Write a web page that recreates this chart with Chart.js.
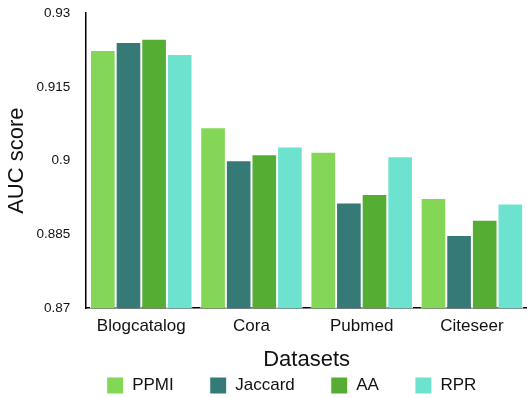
<!DOCTYPE html>
<html>

<head>
  <title>AUC score by dataset</title>
  <script src="https://cdn.jsdelivr.net/npm/chart.js"></script>
  <style>
    body { margin: 0; background: #fff; }
    #wrap { width: 527px; height: 398px; }
  </style>
</head>

<body>
  <div id="wrap"><canvas id="myChart"></canvas></div>
  <script>
    const datasetNames = ['Blogcatalog', 'Cora', 'Pubmed', 'Citeseer'];
    const ppmi = [0.9225, 0.9068, 0.9018, 0.8924];
    const jaccard = [0.9241, 0.9001, 0.8915, 0.8849];
    const aa = [0.9248, 0.9013, 0.8932, 0.8880];
    const rpr = [0.9217, 0.9029, 0.9009, 0.8913];
    const yTicks = [0.87, 0.885, 0.9, 0.915, 0.93];

    const font = 'Liberation Sans, Arial, Helvetica, sans-serif';

    function series(label, data, color) {
      return {
        label: label,
        data: data,
        backgroundColor: color,
        borderColor: '#ffffff',
        borderWidth: 1,
        borderSkipped: 'bottom'
      };
    }

    // legend wants wide gaps between items but a short box, so squeeze it after fit
    // and draw it centred under the plot instead of the whole canvas
    const legendSqueeze = {
      id: 'legendSqueeze',
      beforeInit(chart) {
        const lg = chart.legend;
        const origFit = lg.fit;
        lg.fit = function () {
          origFit.call(this);
          this.height = 25;
        };
        const origDraw = lg.draw;
        lg.draw = function () {
          const t = this.top, l = this.left, r = this.right;
          this.top = t - 32;
          this.left = l + 26;
          this.right = r + 26;
          origDraw.call(this);
          this.top = t;
          this.left = l;
          this.right = r;
        };
      }
    };

    const ctx = document.getElementById('myChart').getContext('2d');
    const myChart = new Chart(ctx, {
      type: 'bar',
      data: {
        labels: datasetNames,
        datasets: [
          series('PPMI', ppmi, '#84d656'),
          series('Jaccard', jaccard, '#357a76'),
          series('AA', aa, '#55ad33'),
          series('RPR', rpr, '#6de3cf')
        ]
      },
      plugins: [legendSqueeze],
      options: {
        responsive: true,
        maintainAspectRatio: false,
        animation: false,
        layout: { padding: { top: 4, right: 0, left: 4, bottom: 0 } },
        datasets: { bar: { barPercentage: 1, categoryPercentage: 0.93 } },
        plugins: {
          tooltip: { enabled: false },
          legend: {
            position: 'bottom',
            labels: {
              color: '#111',
              font: { family: font, size: 17 },
              boxWidth: 17,
              boxHeight: 17,
              padding: 36
            }
          }
        },
        scales: {
          x: {
            grid: { display: false, drawTicks: false },
            border: { color: '#000', width: 1.5 },
            ticks: { color: '#111', font: { family: font, size: 17 }, padding: 8 },
            afterFit: s => { s.height -= 8; },
            title: {
              display: true,
              text: 'Datasets',
              color: '#111',
              font: { family: font, size: 22 },
              padding: { top: 10, bottom: 0 }
            }
          },
          y: {
            min: 0.87,
            max: 0.93,
            afterBuildTicks: axis => { axis.ticks = yTicks.map(v => ({ value: v })); },
            afterFit: s => { s.width -= 16; s.paddingTop -= 11; },
            grid: { display: false, drawTicks: false },
            border: { color: '#000', width: 1.5 },
            ticks: {
              color: '#111',
              font: { family: font, size: 13.5 },
              padding: 16,
              callback: v => String(+v.toFixed(3))
            },
            title: {
              display: true,
              text: 'AUC score',
              color: '#111',
              font: { family: font, size: 22 },
              padding: { top: 0, bottom: 6 }
            }
          }
        }
      }
    });
  </script>
</body>

</html>
